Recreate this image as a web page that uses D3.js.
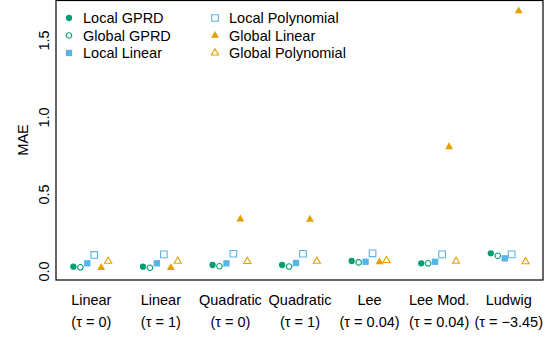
<!DOCTYPE html>
<html><head><meta charset="utf-8">
<script src="https://cdn.jsdelivr.net/npm/d3@7"></script>
<style>body{margin:0;background:#fff}svg{display:block}text{font-family:"Liberation Sans",Arial,sans-serif;font-size:14.5px;fill:#000}</style>
</head><body><svg id="c" width="550" height="339"></svg>
<script>
const categories = ["Linear","Linear","Quadratic","Quadratic","Lee","Lee Mod.","Ludwig"];
const tauLabels = ["0","1","0","1","0.04","0.04","\u22123.45"];
const localGPRD = [0.028,0.028,0.039,0.039,0.065,0.050,0.115];
const globalGPRD = [0.024,0.021,0.031,0.029,0.056,0.050,0.099];
const localLinear = [0.050,0.050,0.050,0.052,0.060,0.060,0.082];
const localPoly = [0.104,0.108,0.112,0.112,0.115,0.108,0.108];
const globalLinear = [0.021,0.021,0.337,0.335,0.058,0.806,1.688];
const globalPoly = [0.064,0.064,0.062,0.064,0.069,0.064,0.060];
const yTicks = [0,0.5,1,1.5];

const green="#009E73", blue="#56B4E9", orange="#E69F00";
const series = [
  {name:"Local GPRD", values:localGPRD, shape:"circle", filled:true, color:green},
  {name:"Global GPRD", values:globalGPRD, shape:"circle", filled:false, color:green},
  {name:"Local Linear", values:localLinear, shape:"square", filled:true, color:blue},
  {name:"Local Polynomial", values:localPoly, shape:"square", filled:false, color:blue},
  {name:"Global Linear", values:globalLinear, shape:"triangle", filled:true, color:orange},
  {name:"Global Polynomial", values:globalPoly, shape:"triangle", filled:false, color:orange}
];

const svg = d3.select("#c");
const L=56, R=543, T=0.5, B=280;
const x = d3.scaleLinear().domain([0.5,7.5]).range([L,R]);
const y = d3.scaleLinear().domain([0,1.5]).range([271,40]);

function symPath(shape, filled){
  if(shape==="circle") return d3.symbol(d3.symbolCircle, filled?31:24)();
  if(shape==="square") return d3.symbol(d3.symbolSquare, filled?40:44)();
  return d3.symbol(d3.symbolTriangle, filled?27:22)();
}
function styleSym(sel, s){
  sel.attr("fill", s.filled? s.color : "none")
     .attr("stroke", s.filled? "none" : s.color)
     .attr("stroke-width", 1.1);
}

// y axis labels (no ticks)
const yAxis = d3.axisLeft(y).tickValues(yTicks).tickFormat(d3.format(".1f")).tickSize(0).tickPadding(0);
const ga = svg.append("g").attr("transform",`translate(${L},0)`).call(yAxis);
ga.select(".domain").remove();
ga.selectAll(".tick text").attr("transform","rotate(-90)").attr("x",0).attr("y",-7)
  .attr("text-anchor","middle").attr("dy","0").attr("font-size","14.5px")
  .attr("font-family","Liberation Sans, Arial, sans-serif").attr("fill","#000");

svg.append("text").attr("transform",`translate(28,140) rotate(-90)`).attr("text-anchor","middle").text("MAE");

// x labels
const xAxis = d3.axisBottom(x).tickValues(d3.range(1,8)).tickSize(0).tickFormat(i=>categories[i-1]);
const gx = svg.append("g").attr("transform",`translate(0,${B})`).call(xAxis);
gx.select(".domain").remove();
gx.selectAll(".tick text").attr("y",25).attr("dy","0").attr("font-size","14.5px")
  .attr("font-family","Liberation Sans, Arial, sans-serif").attr("fill","#000");
gx.selectAll(".tick").append("text").attr("y",47).attr("text-anchor","middle")
  .attr("font-size","14.5px").attr("font-family","Liberation Sans, Arial, sans-serif").attr("fill","#000")
  .text(i=>`(\u03C4 = ${tauLabels[i-1]})`);

// points
const offs = [-0.25,-0.15,-0.05,0.05,0.15,0.25];
series.forEach((s,si)=>{
  svg.append("g").selectAll("path").data(s.values).join("path")
    .attr("d", symPath(s.shape, s.filled))
    .attr("transform",(v,i)=>`translate(${x(i+1+offs[si])},${y(v)})`)
    .call(styleSym, s);
});

// box
svg.append("rect").attr("x",L).attr("y",T).attr("width",R-L).attr("height",B-T)
  .attr("fill","none").attr("stroke","#000").attr("stroke-width",1.2);

// legend
const legPos = [[69,18],[69,35.5],[69,53],[215,18],[215,35.5],[215,53]];
series.forEach((s,i)=>{
  const [lx,ly]=legPos[i];
  svg.append("path").attr("d",symPath(s.shape,s.filled)).attr("transform",`translate(${lx},${ly})`).call(styleSym,s);
  svg.append("text").attr("x",lx+14).attr("y",ly+5).text(s.name);
});
</script></body></html>
